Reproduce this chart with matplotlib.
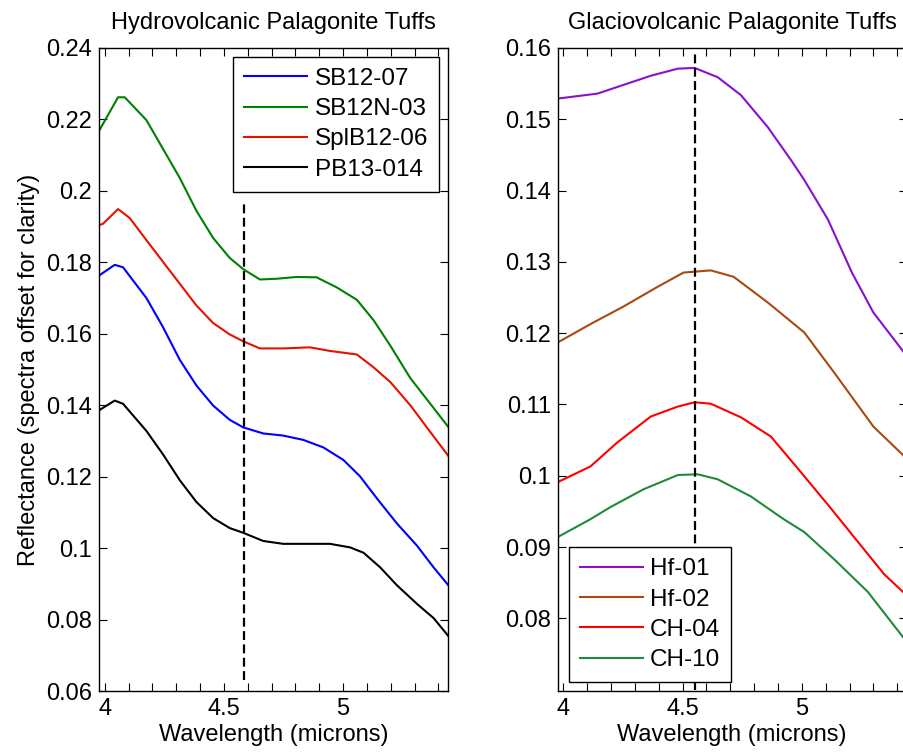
import numpy as np
import matplotlib
matplotlib.use("Agg")
import matplotlib.pyplot as plt
from matplotlib.ticker import MultipleLocator

plt.rcParams['font.family'] = ['Liberation Sans', 'DejaVu Sans']
plt.rcParams['font.size'] = 17

# Left panel: hydrovolcanic palagonite tuffs (offset spectra)
wl_sb1207 = [3.972, 4.042, 4.077, 4.175, 4.245, 4.315, 4.385, 4.455, 4.525, 4.581, 4.665, 4.749,
             4.833, 4.917, 5.001, 5.071, 5.141, 5.226, 5.310, 5.380, 5.443]
r_sb1207 = [0.1761, 0.1793, 0.1786, 0.1700, 0.1618, 0.1527, 0.1455, 0.1399, 0.1359, 0.1338, 0.1321, 0.1315,
            0.1303, 0.1282, 0.1247, 0.1201, 0.1140, 0.1069, 0.1007, 0.0946, 0.0895]

wl_sb12n03 = [3.972, 4.056, 4.084, 4.175, 4.245, 4.315, 4.385, 4.455, 4.525, 4.581, 4.651, 4.721,
              4.805, 4.889, 4.973, 5.058, 5.128, 5.198, 5.282, 5.366, 5.443]
r_sb12n03 = [0.2163, 0.2262, 0.2262, 0.2198, 0.2117, 0.2036, 0.1944, 0.1868, 0.1812, 0.1781, 0.1752, 0.1754,
             0.1759, 0.1758, 0.1730, 0.1695, 0.1638, 0.1567, 0.1476, 0.1404, 0.1338]

wl_splb1206 = [3.972, 3.993, 4.056, 4.105, 4.175, 4.245, 4.315, 4.385, 4.455, 4.525, 4.581, 4.651,
               4.749, 4.861, 4.945, 5.058, 5.128, 5.198, 5.282, 5.366, 5.443]
r_splb1206 = [0.1903, 0.1908, 0.1949, 0.1924, 0.1862, 0.1801, 0.1740, 0.1679, 0.1630, 0.1598, 0.1579, 0.1559,
              0.1559, 0.1562, 0.1552, 0.1542, 0.1506, 0.1465, 0.1400, 0.1325, 0.1257]

wl_pb13014 = [3.972, 4.042, 4.077, 4.175, 4.245, 4.315, 4.385, 4.455, 4.525, 4.581, 4.665, 4.749,
              4.945, 5.030, 5.086, 5.156, 5.226, 5.310, 5.380, 5.443]
r_pb13014 = [0.1384, 0.1413, 0.1404, 0.1328, 0.1262, 0.1190, 0.1129, 0.1084, 0.1056, 0.1043, 0.1020, 0.1012,
             0.1012, 0.1002, 0.0987, 0.0946, 0.0896, 0.0844, 0.0804, 0.0753]

# Right panel: glaciovolcanic palagonite tuffs
wl_hf01 = [3.976, 4.143, 4.25, 4.366, 4.48, 4.55, 4.647, 4.744, 4.857, 4.954, 5.01, 5.11, 5.21, 5.30, 5.44]
r_hf01 = [0.1529, 0.1536, 0.1548, 0.1561, 0.1571, 0.1572, 0.1559, 0.1534, 0.1489, 0.1443, 0.1415, 0.1359, 0.1285, 0.1229, 0.1168]

wl_hf02 = [3.976, 4.126, 4.25, 4.395, 4.504, 4.618, 4.714, 4.857, 5.01, 5.135, 5.30, 5.44]
r_hf02 = [0.1187, 0.1215, 0.1237, 0.1265, 0.1285, 0.1288, 0.1279, 0.1243, 0.1201, 0.1145, 0.1069, 0.1024]

wl_ch04 = [3.976, 4.113, 4.227, 4.366, 4.48, 4.55, 4.618, 4.744, 4.87, 4.996, 5.12, 5.26, 5.345, 5.44]
r_ch04 = [0.0991, 0.1013, 0.1047, 0.1083, 0.1097, 0.1103, 0.1101, 0.1082, 0.1055, 0.1005, 0.0955, 0.0897, 0.0862, 0.0832]

wl_ch10 = [3.976, 4.113, 4.197, 4.336, 4.48, 4.563, 4.647, 4.786, 4.924, 5.01, 5.135, 5.277, 5.44]
r_ch10 = [0.0914, 0.0939, 0.0956, 0.0981, 0.1001, 0.1002, 0.0995, 0.0971, 0.0939, 0.0921, 0.0883, 0.0837, 0.0767]

left_band = 4.583
right_band = 4.55

fig = plt.figure(figsize=(9.04, 7.53), dpi=100)
ax1 = fig.add_axes([0.1095, 0.0823, 0.386, 0.854])
ax2 = fig.add_axes([0.617, 0.0823, 0.386, 0.854])

leg_kw = dict(frameon=True, fancybox=False, edgecolor='black', framealpha=1, fontsize=17.5,
              handlelength=2.6, handletextpad=0.3, labelspacing=0.34, borderpad=0.45, borderaxespad=0)

lw = 1.5
ax1.plot(wl_sb1207, r_sb1207, color='#0000ff', lw=lw, label='SB12-07')
ax1.plot(wl_sb12n03, r_sb12n03, color='#008000', lw=lw, label='SB12N-03')
ax1.plot(wl_splb1206, r_splb1206, color='#e81000', lw=lw, label='SplB12-06')
ax1.plot(wl_pb13014, r_pb13014, color='black', lw=lw, label='PB13-014')
ax1.plot([left_band, left_band], [0.063, 0.197], color='black', lw=1.6, ls=(0, (4, 2)))
ax1.set_ylim(0.06, 0.24)
ax1.set_yticks(np.arange(0.06, 0.2401, 0.02))
ax1.set_yticklabels(['0.06', '0.08', '0.1', '0.12', '0.14', '0.16', '0.18', '0.2', '0.22', '0.24'])
ax1.set_title('Hydrovolcanic Palagonite Tuffs', pad=14, fontsize=17)
ax1.set_ylabel('Reflectance (spectra offset for clarity)')
ax1.legend(loc='upper right', bbox_to_anchor=(0.974, 0.986), **leg_kw)

ax2.plot(wl_hf01, r_hf01, color='#8a10d0', lw=lw, label='Hf-01')
ax2.plot(wl_hf02, r_hf02, color='#a84a10', lw=lw, label='Hf-02')
ax2.plot(wl_ch04, r_ch04, color='#ff0000', lw=lw, label='CH-04')
ax2.plot(wl_ch10, r_ch10, color='#1e8a3c', lw=lw, label='CH-10')
ax2.plot([right_band, right_band], [0.07, 0.1595], color='black', lw=1.6, ls=(0, (4, 2)))
ax2.set_ylim(0.0698, 0.16)
ax2.set_yticks(np.arange(0.08, 0.1601, 0.01))
ax2.set_yticklabels(['0.08', '0.09', '0.1', '0.11', '0.12', '0.13', '0.14', '0.15', '0.16'])
ax2.set_title('Glaciovolcanic Palagonite Tuffs', pad=14, fontsize=17)
ax2.legend(loc='lower left', bbox_to_anchor=(0.031, 0.014), **leg_kw)

for ax in (ax1, ax2):
    ax.set_xlim(3.976, 5.44)
    ax.set_xticks([4, 4.5, 5])
    ax.set_xticklabels(['4', '4.5', '5'])
    ax.xaxis.set_minor_locator(MultipleLocator(0.1))
    ax.set_xlabel('Wavelength (microns)', labelpad=3)
    ax.tick_params(which='both', direction='in', top=True, right=True, length=5.8, width=0.8)
    ax.tick_params(axis='both', which='major', pad=5)
    for s in ax.spines.values():
        s.set_linewidth(1.0)
    ax.get_legend().get_frame().set_linewidth(1.0)

fig.savefig('out.png', dpi=100)
